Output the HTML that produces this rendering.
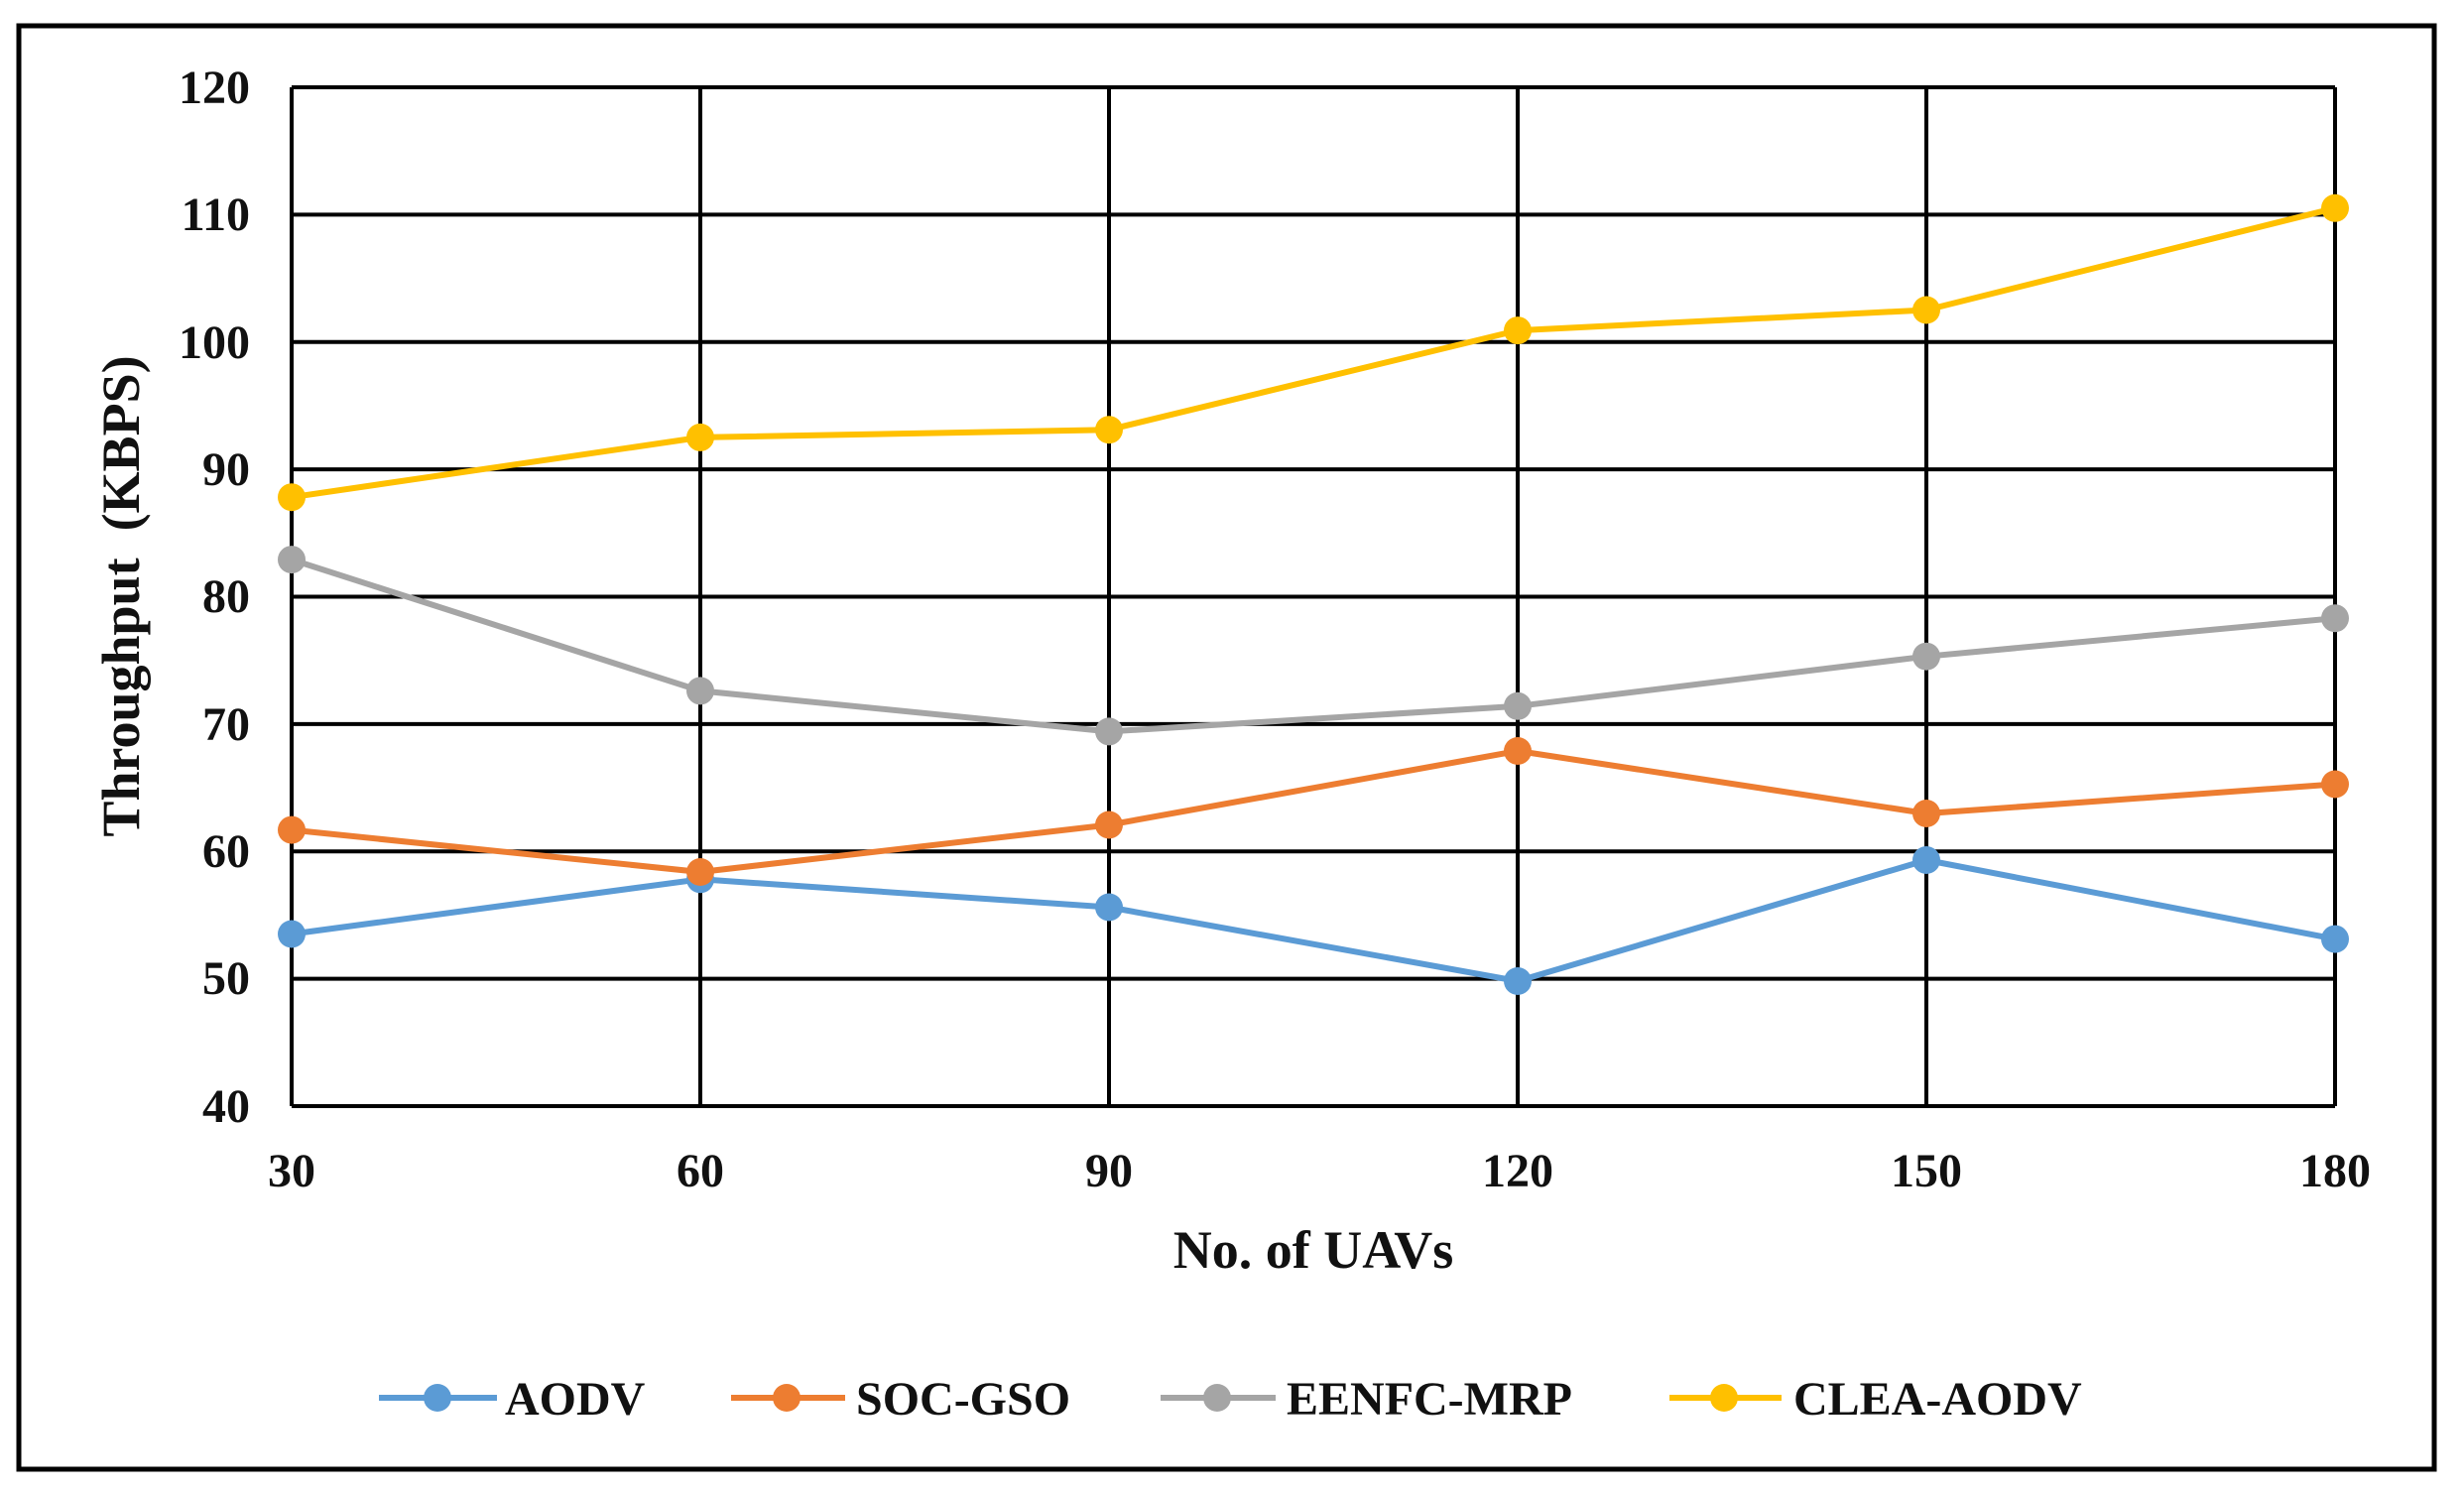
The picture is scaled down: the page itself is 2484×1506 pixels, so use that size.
<!DOCTYPE html>
<html><head><meta charset="utf-8"><style>
html,body{margin:0;padding:0;background:#fff;}
svg{display:block;}
text{font-family:"Liberation Serif",serif;font-weight:bold;fill:#111;}
</style></head><body>
<svg width="2484" height="1506" viewBox="0 0 2484 1506" xmlns="http://www.w3.org/2000/svg">
<rect x="0" y="0" width="2484" height="1506" fill="#fff"/>
<rect x="19" y="26" width="2435" height="1455" fill="none" stroke="#000" stroke-width="5"/>
<g stroke="#000" stroke-width="4" fill="none">
<line x1="294" y1="88" x2="2354" y2="88"/>
<line x1="294" y1="216.4" x2="2354" y2="216.4"/>
<line x1="294" y1="344.8" x2="2354" y2="344.8"/>
<line x1="294" y1="473.1" x2="2354" y2="473.1"/>
<line x1="294" y1="601.5" x2="2354" y2="601.5"/>
<line x1="294" y1="729.9" x2="2354" y2="729.9"/>
<line x1="294" y1="858.3" x2="2354" y2="858.3"/>
<line x1="294" y1="986.6" x2="2354" y2="986.6"/>
<line x1="294" y1="1115" x2="2354" y2="1115"/>
<line x1="294" y1="88" x2="294" y2="1115"/>
<line x1="706" y1="88" x2="706" y2="1115"/>
<line x1="1118" y1="88" x2="1118" y2="1115"/>
<line x1="1530" y1="88" x2="1530" y2="1115"/>
<line x1="1942" y1="88" x2="1942" y2="1115"/>
<line x1="2354" y1="88" x2="2354" y2="1115"/>
</g>
<g font-size="48" text-anchor="end">
<text x="252" y="104">120</text>
<text x="252" y="232">110</text>
<text x="252" y="361">100</text>
<text x="252" y="489">90</text>
<text x="252" y="617">80</text>
<text x="252" y="746">70</text>
<text x="252" y="874">60</text>
<text x="252" y="1002">50</text>
<text x="252" y="1131">40</text>
</g>
<g font-size="48" text-anchor="middle">
<text x="294" y="1196">30</text>
<text x="706" y="1196">60</text>
<text x="1118" y="1196">90</text>
<text x="1530" y="1196">120</text>
<text x="1942" y="1196">150</text>
<text x="2354" y="1196">180</text>
</g>
<text x="1324" y="1278" font-size="54" text-anchor="middle">No. of UAVs</text>
<text transform="translate(140,601) rotate(-90)" font-size="54" text-anchor="middle" xml:space="preserve">Throughput  (KBPS)</text>
<g stroke-width="6" fill="none" stroke-linejoin="round">
<polyline stroke="#5B9BD5" points="294,941.5 706,886.3 1118,914.5 1530,989 1942,867 2354,946.6"/>
<polyline stroke="#ED7D31" points="294,836.6 706,879 1118,831.5 1530,757 1942,820 2354,790.5"/>
<polyline stroke="#A5A5A5" points="294,564.1 706,696.4 1118,737.4 1530,711.8 1942,661.7 2354,623.2"/>
<polyline stroke="#FFC000" points="294,501.2 706,440.9 1118,433.2 1530,333.1 1942,312.5 2354,209.8"/>
</g>
<g stroke="none">
<g fill="#5B9BD5"><circle cx="294" cy="941.5" r="14"/><circle cx="706" cy="886.3" r="14"/><circle cx="1118" cy="914.5" r="14"/><circle cx="1530" cy="989" r="14"/><circle cx="1942" cy="867" r="14"/><circle cx="2354" cy="946.6" r="14"/></g>
<g fill="#ED7D31"><circle cx="294" cy="836.6" r="14"/><circle cx="706" cy="879" r="14"/><circle cx="1118" cy="831.5" r="14"/><circle cx="1530" cy="757" r="14"/><circle cx="1942" cy="820" r="14"/><circle cx="2354" cy="790.5" r="14"/></g>
<g fill="#A5A5A5"><circle cx="294" cy="564.1" r="14"/><circle cx="706" cy="696.4" r="14"/><circle cx="1118" cy="737.4" r="14"/><circle cx="1530" cy="711.8" r="14"/><circle cx="1942" cy="661.7" r="14"/><circle cx="2354" cy="623.2" r="14"/></g>
<g fill="#FFC000"><circle cx="294" cy="501.2" r="14"/><circle cx="706" cy="440.9" r="14"/><circle cx="1118" cy="433.2" r="14"/><circle cx="1530" cy="333.1" r="14"/><circle cx="1942" cy="312.5" r="14"/><circle cx="2354" cy="209.8" r="14"/></g>
</g>
<g stroke-width="6">
<line x1="382" y1="1409" x2="501" y2="1409" stroke="#5B9BD5"/><circle cx="441" cy="1409" r="14" fill="#5B9BD5"/>
<line x1="737" y1="1409" x2="852" y2="1409" stroke="#ED7D31"/><circle cx="793" cy="1409" r="14" fill="#ED7D31"/>
<line x1="1170" y1="1409" x2="1286" y2="1409" stroke="#A5A5A5"/><circle cx="1227" cy="1409" r="14" fill="#A5A5A5"/>
<line x1="1683" y1="1409" x2="1796" y2="1409" stroke="#FFC000"/><circle cx="1738" cy="1409" r="14" fill="#FFC000"/>
</g>
<g font-size="48">
<text x="509" y="1426">AODV</text>
<text x="863" y="1426">SOC-GSO</text>
<text x="1297" y="1426">EENFC-MRP</text>
<text x="1808" y="1426">CLEA-AODV</text>
</g>
</svg>
</body></html>
